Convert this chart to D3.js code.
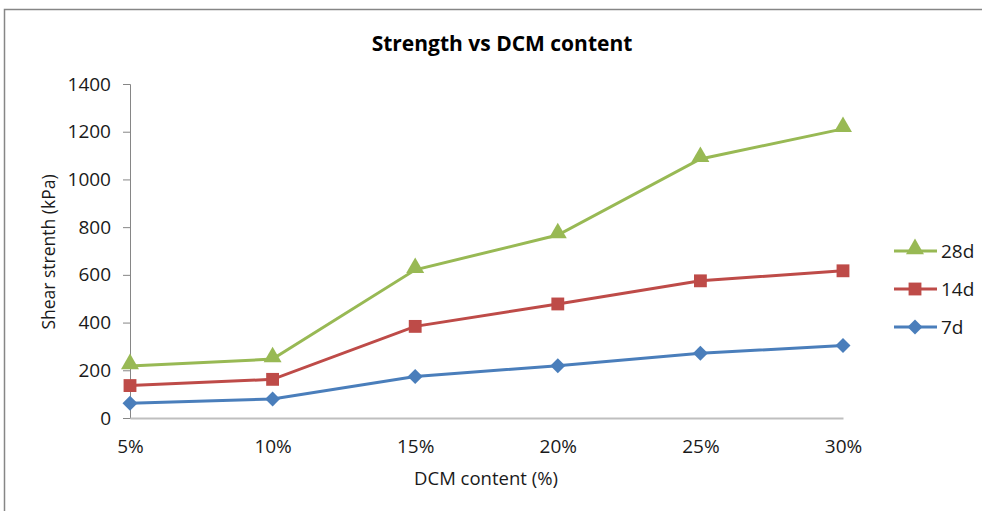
<!DOCTYPE html>
<html>
<head>
<meta charset="utf-8">
<script src="https://cdn.jsdelivr.net/npm/d3@7"></script>
<style>
    body { margin: 0; background: #fff; }
    svg { display: block; font-family: "Open Sans", "Noto Sans", sans-serif; }
</style>
</head>
<body>
<div id="chart"></div>
<script>
// chart data
var categories = ['5%', '10%', '15%', '20%', '25%', '30%'];
var seriesNames = ['28d', '14d', '7d'];
var values7d = [62, 80, 174, 219, 271, 304];
var values14d = [136, 162, 384, 478, 575, 617];
var values28d = [218, 247, 621, 767, 1086, 1212];
var yTicks = [0, 200, 400, 600, 800, 1000, 1200, 1400];

var _width = 982,
    _height = 511,
    _green = '#98b954',
    _red = '#be4b48',
    _blue = '#4a7ebb',
    _text = '#1a1a1a';

var series = [
    { name: seriesNames[0], values: values28d, color: _green, shape: 'triangle' },
    { name: seriesNames[1], values: values14d, color: _red, shape: 'square' },
    { name: seriesNames[2], values: values7d, color: _blue, shape: 'diamond' }
];

var svg = d3.select('#chart').append('svg').attr('width', _width).attr('height', _height);

// outer frame
svg.append('rect')
    .attr('x', 4.5).attr('y', 9.5)
    .attr('width', _width + 10).attr('height', _height)
    .attr('fill', 'none').attr('stroke', '#868686').attr('stroke-width', 1.5);

var _x = d3.scalePoint().domain(categories).range([130, 843]);
var _y = d3.scaleLinear().domain([0, 1400]).range([418, 84]);

// title
svg.append('text')
    .attr('x', 502).attr('y', 51)
    .attr('text-anchor', 'middle')
    .attr('font-size', 21).attr('font-weight', 'bold')
    .attr('fill', '#000')
    .text('Strength vs DCM content');

// y axis
var yAxis = svg.append('g')
    .attr('transform', 'translate(130,0)')
    .call(d3.axisLeft(_y).tickValues(yTicks).tickSize(7).tickPadding(12).tickFormat(d3.format('d')));
yAxis.select('.domain').attr('stroke', '#868686');
yAxis.selectAll('.tick line').attr('stroke', '#868686');
yAxis.selectAll('.tick text').attr('font-size', 19).attr('fill', _text).attr('font-family', '"Open Sans", sans-serif');

// x axis
var xAxis = svg.append('g')
    .attr('transform', 'translate(0,418)')
    .call(d3.axisBottom(_x).tickSize(0).tickPadding(22));
xAxis.select('.domain').attr('stroke', '#bfbfbf').attr('stroke-width', 2);
xAxis.selectAll('.tick text').attr('font-size', 19).attr('fill', _text).attr('font-family', '"Open Sans", sans-serif');

// axis titles
svg.append('text')
    .attr('transform', 'translate(55,252) rotate(-90)')
    .attr('text-anchor', 'middle')
    .attr('font-size', 17.5).attr('fill', _text)
    .text('Shear strenth (kPa)');

svg.append('text')
    .attr('x', 486).attr('y', 485)
    .attr('text-anchor', 'middle')
    .attr('font-size', 18.5).attr('fill', _text)
    .text('DCM content (%)');

function symbolFor(shape) {
    if (shape === 'triangle') return d3.symbol().type(d3.symbolTriangle).size(140)();
    if (shape === 'square') return d3.symbol().type(d3.symbolSquare).size(165)();
    return d3.symbol().type(d3.symbolSquare).size(112)();
}
function markerTransform(shape, x, y) {
    if (shape === 'triangle') return 'translate(' + x + ',' + (y - 2) + ')';
    if (shape === 'diamond') return 'translate(' + x + ',' + y + ') rotate(45)';
    return 'translate(' + x + ',' + y + ')';
}

var line = d3.line()
    .x(function (d, i) { return _x(categories[i]); })
    .y(function (d) { return _y(d); });

// draw from bottom series up so 28d sits on top
series.slice().reverse().forEach(function (s) {
    var g = svg.append('g');
    g.append('path')
        .attr('d', line(s.values))
        .attr('fill', 'none')
        .attr('stroke', s.color)
        .attr('stroke-width', 3);
    g.selectAll('path.marker')
        .data(s.values)
        .enter()
        .append('path')
        .attr('class', 'marker')
        .attr('d', symbolFor(s.shape))
        .attr('transform', function (d, i) {
            return markerTransform(s.shape, _x(categories[i]), _y(d));
        })
        .attr('fill', s.color);
});

// legend
var legend = svg.append('g');
series.forEach(function (s, i) {
    var ly = 251 + i * 38;
    var lg = legend.append('g');
    lg.append('line')
        .attr('x1', 894).attr('x2', 937)
        .attr('y1', ly).attr('y2', ly)
        .attr('stroke', s.color).attr('stroke-width', 3);
    lg.append('path')
        .attr('d', symbolFor(s.shape))
        .attr('transform', markerTransform(s.shape, 915, ly))
        .attr('fill', s.color);
    lg.append('text')
        .attr('x', 941).attr('y', ly + 7)
        .attr('font-size', 19).attr('fill', _text)
        .text(s.name);
});
</script>
</body>
</html>
